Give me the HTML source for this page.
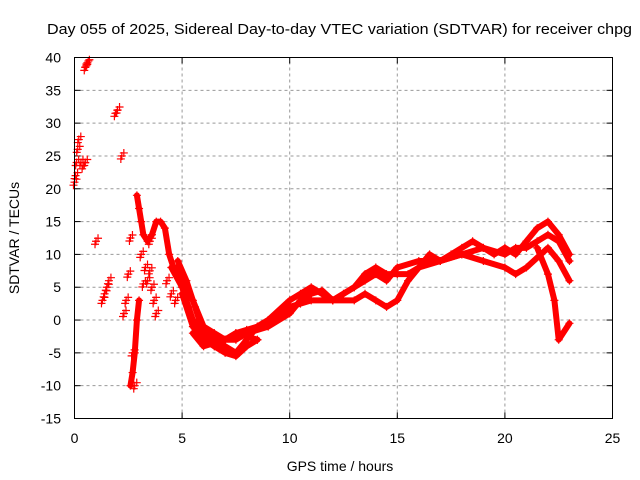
<!DOCTYPE html>
<html><head><meta charset="utf-8"><style>
body{margin:0;background:#fff;}
svg{display:block;font-family:"Liberation Sans",sans-serif;}
</style></head><body>
<svg id="chart" width="640" height="480" viewBox="0 0 640 480">
<rect width="640" height="480" fill="#fff"/>
<text x="47" y="34" font-size="15" textLength="585" lengthAdjust="spacingAndGlyphs">Day 055 of 2025, Sidereal Day-to-day VTEC variation (SDTVAR) for receiver chpg</text>
<g id="grid"></g>
<g id="ticks"></g>
<g id="marks"></g>
<rect x="74.5" y="57.5" width="538" height="361" fill="none" stroke="#000" stroke-width="1"/>
<text x="340" y="471" font-size="14" text-anchor="middle">GPS time / hours</text>
<text x="0" y="0" font-size="14" text-anchor="middle" transform="translate(19,238) rotate(-90)">SDTVAR / TECUs</text>
</svg>
<script>
const xTicks=[0,5,10,15,20,25];
const yTicks=[-15,-10,-5,0,5,10,15,20,25,30,35,40];
const trackA=[[4.5,8],[5,5],[5.5,0],[6,-2],[6.5,-3],[7,-4],[7.5,-5],[8,-3],[8.5,-1],[9,0],[9.5,1],[10,2],[10.5,2.5],[11,3],[12,3],[13,3],[13.5,4],[14,3],[14.5,2],[15,3],[15.5,6],[16,8],[17,9],[18,10],[19,9],[20,8],[20.5,7],[21,8],[22,11],[22.5,9],[23,6]];
const trackB=[[4.8,9],[5.2,6],[5.6,2],[6,-2],[6.5,-4],[7,-5],[7.5,-5.5],[8,-4],[8.5,-3]];
const trackC=[[5,4],[5.5,-1],[6,-3],[6.5,-4],[7,-3],[7.5,-2],[8,-1.5],[8.5,-1],[9,0],[10,3],[10.5,4],[11,5],[11.5,4],[12,3],[12.5,4],[13,5],[13.5,7],[14,8],[14.5,7],[15,7],[15.5,7],[16,8],[16.5,10],[17,9],[17.5,10],[18,11],[18.5,12],[19,11],[19.5,10],[20,11],[20.5,10],[21,12],[21.5,14],[22,15],[22.5,13],[23,10]];
const trackD=[[5,6],[5.5,3],[6,-1],[6.5,-2],[7,-3],[7.5,-3],[8,-2],[9,-1],[10,1],[10.5,3],[11,4],[11.5,4.5],[12,3],[13,5],[13.5,6],[14,7],[14.5,6],[15,8],[16,9],[17,9],[18,10],[19,11],[20,10],[20.5,11],[21,11],[21.5,12],[22,13],[22.5,12],[23,9]];
const trackE=[[5.5,-2],[6,-4],[6.5,-3.5],[7,-3],[7.5,-2],[8,-2.5],[8.5,-3]];
const trackF=[[21.5,11],[22,7],[22.3,3],[22.5,-3],[23,-0.5]];
const trackG=[[2.9,19],[3,17],[3.1,15],[3.2,13],[3.4,12],[3.6,13],[3.8,15],[4,15],[4.2,14],[4.4,10],[4.6,8],[4.8,8],[5,6]];
const trackH=[[2.6,-10],[2.7,-8],[2.8,-5],[2.9,0],[3,3]];
const scatter=[[0,21],[0.05,22],[0.1,24],[0.15,26],[0.2,27.5],[0.3,24],[0.4,23.5],[0.5,24],[0.5,38.5],[0.55,39],[0.6,39.2],[1,12],[1.3,3],[1.4,4],[1.5,5],[1.6,6],[1.9,31.5],[2,32],[2.2,25],[2.3,1],[2.4,3],[2.5,7],[2.6,12.5],[2.7,-5],[2.8,-10],[3.1,10],[3.3,8],[3.4,6],[3.5,12],[3.6,5],[3.7,3],[3.8,1],[4.3,6],[4.5,4],[4.7,3],[3.2,5.5],[3.5,7.5]];
const tracks=[trackA,trackB,trackC,trackD,trackE,trackF,trackG,trackH];
const NS='http://www.w3.org/2000/svg';
const X0=74.5,X1=612.5,Y0=418.5,Y1=57.5;
const xs=v=>X0+(v-0)/25*(X1-X0);
const ys=v=>Y0-(v+15)/55*(Y0-Y1);
function mk(tag,attrs,parent){const e=document.createElementNS(NS,tag);for(const k in attrs)e.setAttribute(k,attrs[k]);parent.appendChild(e);return e;}
const grid=document.getElementById('grid'),ticks=document.getElementById('ticks'),marks=document.getElementById('marks');
xTicks.forEach(t=>{
  const x=xs(t);
  if(t>0&&t<25){const g=mk('line',{x1:x,x2:x,y1:Y0,y2:Y1,stroke:'#999','stroke-dasharray':'3,3'},grid);
  
  }
  mk('line',{x1:x,x2:x,y1:Y0,y2:Y0-6,stroke:'#000'},ticks);
  mk('line',{x1:x,x2:x,y1:Y1,y2:Y1+6,stroke:'#000'},ticks);
  const l=mk('text',{x:x,y:443,'font-size':14,'text-anchor':'middle'},ticks);
  l.textContent=t;
  
  
});
yTicks.forEach(t=>{
  const y=ys(t);
  if(t>-15&&t<40){const g=mk('line',{x1:X0,x2:X1,y1:y,y2:y,stroke:'#999','stroke-dasharray':'3,3'},grid);
  
  }
  mk('line',{x1:X0,x2:X0+6,y1:y,y2:y,stroke:'#000'},ticks);
  mk('line',{x1:X1,x2:X1-6,y1:y,y2:y,stroke:'#000'},ticks);
  const l=mk('text',{x:61,y:y+5,'font-size':14,'text-anchor':'end'},ticks);
  l.textContent=t;
  
  
});
function plus(x,y,name){
  const p=mk('path',{d:`M${x-4},${y}h8M${x},${y-4}v8`,stroke:'#f00','stroke-width':1.2,fill:'none'},marks);
  
  
}
tracks.forEach((tr,i)=>{
  const pl=mk('polyline',{points:tr.map(p=>xs(p[0])+','+ys(p[1])).join(' '),fill:'none',stroke:'#f00','stroke-width':6,'stroke-linejoin':'round','stroke-linecap':'round'},marks);
  
  
  tr.forEach(p=>plus(xs(p[0]),ys(p[1]),'track-point'));
});
scatter.forEach(p=>{
  const x=xs(p[0]),y=ys(p[1]);
  plus(x,y,'scatter-point');plus(x+2,y-3,'scatter-point');plus(x-1,y+3,'scatter-point');
});
</script>
</body></html>
